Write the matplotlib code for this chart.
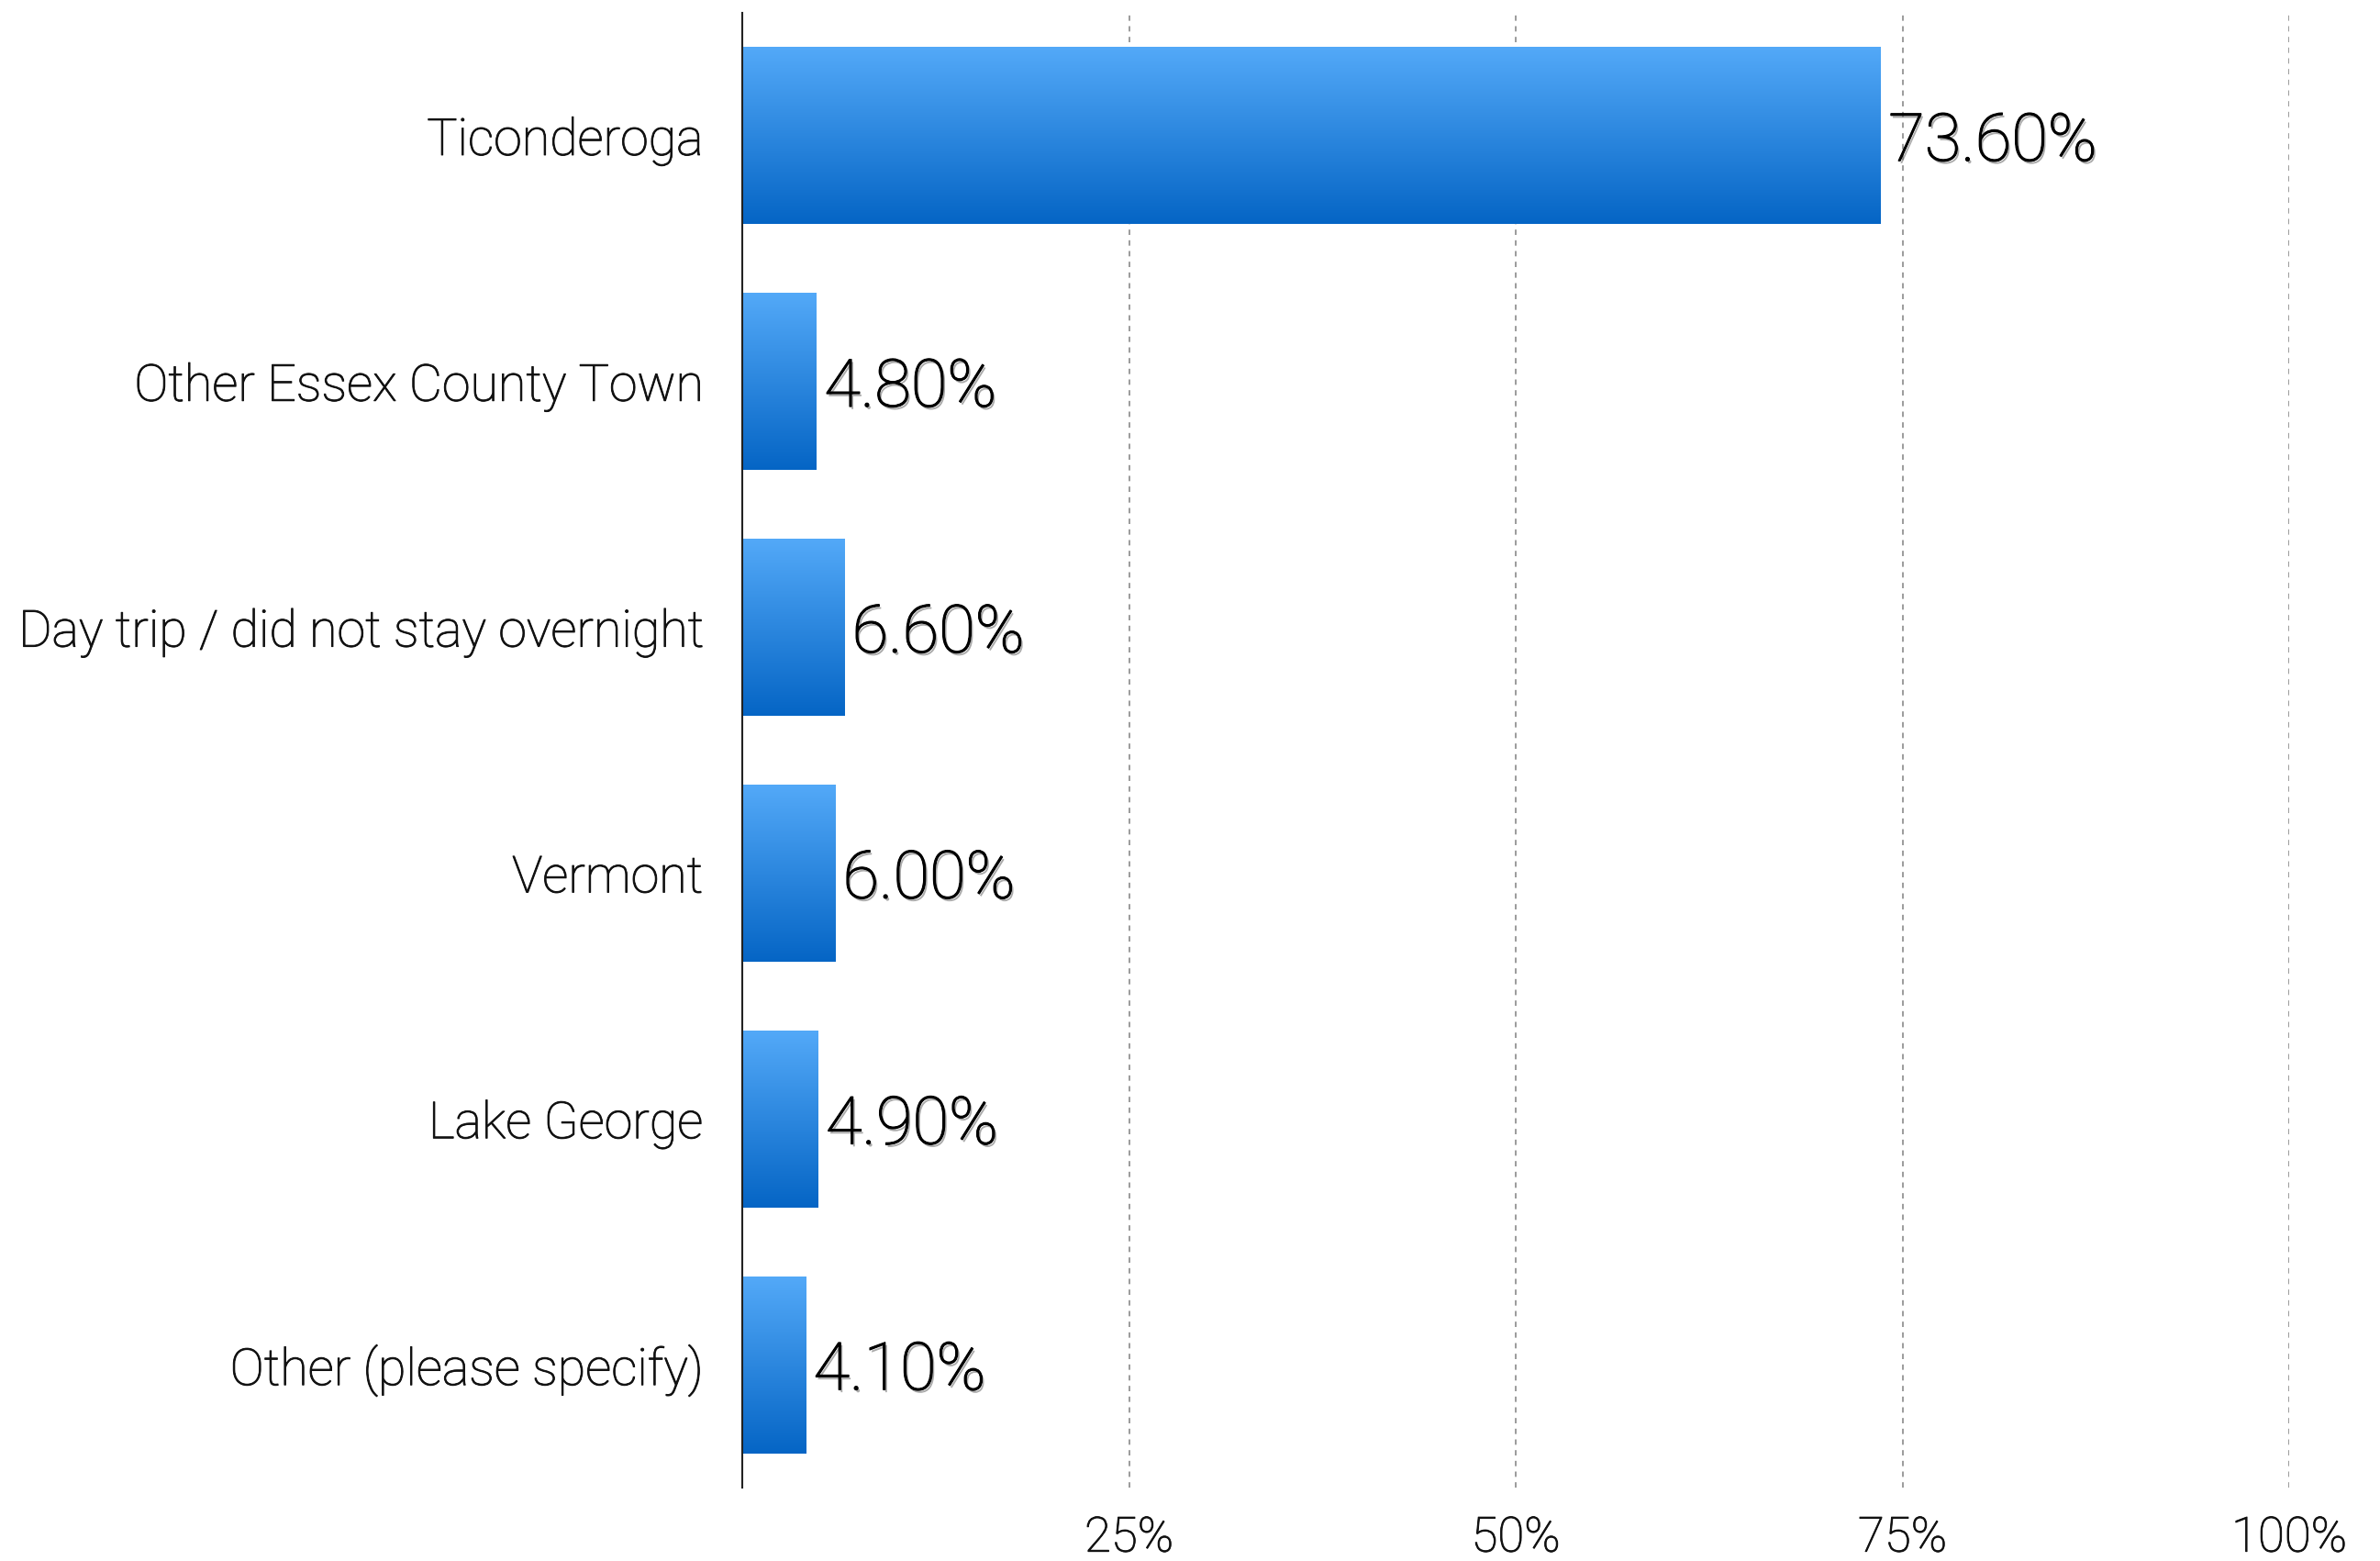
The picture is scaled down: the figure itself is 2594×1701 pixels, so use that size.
import numpy as np
import matplotlib
matplotlib.use("Agg")
import matplotlib.pyplot as plt
import matplotlib.patheffects as pe
from matplotlib.colors import LinearSegmentedColormap

categories = ["Ticonderoga", "Other Essex County Town", "Day trip / did not stay overnight",
              "Vermont", "Lake George", "Other (please specify)"]
values = [73.6, 4.8, 6.6, 6.0, 4.9, 4.1]
x_ticks = [25, 50, 75, 100]
x_tick_labels = ["25%", "50%", "75%", "100%"]

plt.rcParams['font.family'] = ['Roboto', 'DejaVu Sans']

fig = plt.figure(figsize=(25.94, 17.01), dpi=100)
ax = fig.add_axes([809/2594, 1 - 1621/1701, (2495-809)/2594, (1621-14)/1701])

y = np.arange(len(categories))
bars = ax.barh(y, values, height=0.72, color="#2c87e2", zorder=2)

cmap = LinearSegmentedColormap.from_list("g", ["#0565c5", "#53a9f8"])
grad = np.linspace(0, 1, 256).reshape(-1, 1)
for b in bars:
    x0, y0, w, h = b.get_x(), b.get_y(), b.get_width(), b.get_height()
    im = ax.imshow(grad, cmap=cmap, aspect="auto", origin="upper",
                   extent=[x0, x0 + w, y0, y0 + h], zorder=3, interpolation="bilinear")
    im.set_clip_path(b)

ax.set_xlim(0, 100)
ax.set_ylim(len(categories) - 0.5, -0.5)

thick = [pe.withStroke(linewidth=0.7, foreground="#111111")]

ax.set_yticks(y)
ax.set_yticklabels(categories, fontsize=40, fontweight="light", color="#111111")
ax.set_xticks(x_ticks)
ax.set_xticklabels(x_tick_labels, fontsize=38, fontweight="light", color="#111111")
for lab in ax.get_yticklabels():
    lab.set_verticalalignment("center_baseline")
    lab.set_path_effects(thick)
for lab in ax.get_xticklabels():
    lab.set_path_effects(thick)
ax.tick_params(axis="y", length=0, pad=31)
ax.tick_params(axis="x", length=0, pad=21)

for t in x_ticks:
    ax.axvline(t, color="#8a8a8a", lw=1.2, linestyle=(0, (3.5, 3.5)), zorder=1)

for s in ["top", "right", "bottom"]:
    ax.spines[s].set_visible(False)
ax.spines["left"].set_color("#222222")
ax.spines["left"].set_linewidth(1.5)
ax.spines["left"].set_zorder(5)

shadow = [pe.withSimplePatchShadow(offset=(1.5, -2), shadow_rgbFace="#666666", alpha=0.55),
          pe.withStroke(linewidth=0.9, foreground="black"),
          pe.Normal()]
for yi, v in zip(y, values):
    ax.annotate(f"{v:.2f}%", xy=(v, yi), xytext=(6, 0), textcoords="offset points",
                va="center_baseline", ha="left", fontsize=52, fontweight="light",
                color="black", path_effects=shadow, zorder=6)

fig.savefig("out.png", dpi=100)
